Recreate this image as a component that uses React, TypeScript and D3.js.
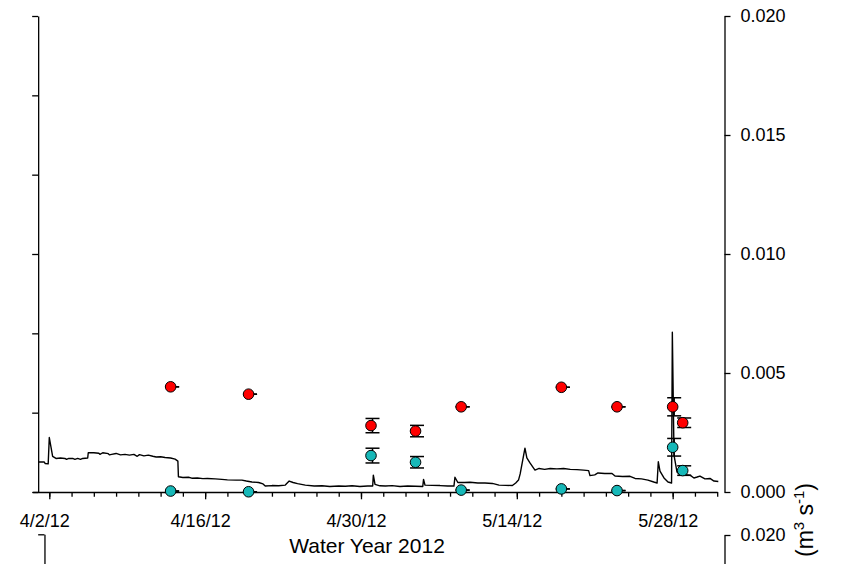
import React, { useEffect, useRef } from "react";
import * as d3 from "d3";

// Record start: 4/1/12 00:00. Times below are fractional days after it.
const RECORD_START = new Date(2012, 3, 1);

// Continuous discharge record (m3 s-1)
const flowDays = [
  0.0, 0.55, 0.62, 0.9, 1.0, 1.3, 1.6, 2.0, 2.4, 2.55, 2.75, 3.1, 3.3, 3.55, 3.8, 4.0, 4.45, 4.5,
  5.0, 5.45, 5.55, 5.8, 6.3, 6.4, 6.6, 7.0, 7.4, 7.8, 8.2, 8.6, 8.9, 9.1, 9.5, 9.9, 10.3, 10.6,
  11.0, 11.4, 11.9, 12.3, 12.55, 12.6, 13.0, 13.5, 13.8, 14.3, 14.8, 15.2, 15.9, 16.5, 17.0, 17.8,
  18.3, 18.7, 19.2, 19.8, 20.2, 20.4, 21.0, 21.6, 22.2, 22.55, 22.9, 23.3, 24.0, 24.8, 25.5, 26.2,
  27.0, 27.6, 28.2, 28.9, 29.6, 30.05, 30.11, 30.26, 30.7, 31.2, 31.8, 32.5, 33.2, 33.9, 34.55,
  34.62, 34.75, 35.4, 36.1, 36.8, 37.35, 37.44, 37.7, 38.3, 38.8, 39.5, 40.14, 40.8, 41.4, 42.0,
  42.6, 42.9, 43.15, 43.3, 43.73, 43.9, 44.18, 44.63, 45.0, 45.5, 46.0, 46.6, 47.2, 47.8, 48.4,
  49.0, 49.45, 49.57, 50.0, 50.29, 50.9, 51.55, 51.82, 52.5, 53.17, 53.62, 54.2, 54.78, 55.3,
  55.6, 55.71, 55.86, 56.22, 56.58, 56.9, 56.97, 57.12, 57.39, 57.66, 58.1, 58.56, 58.91, 59.2,
  59.45, 59.9, 60.35, 60.71, 61.1,
];
const flowValues = [
  0.00126, 0.00126, 0.0012, 0.00118, 0.00229, 0.0015, 0.00141, 0.00143, 0.00141, 0.00137, 0.00141,
  0.00141, 0.00137, 0.00141, 0.00137, 0.00141, 0.00143, 0.00165, 0.00165, 0.00163, 0.00158, 0.00165,
  0.00161, 0.00156, 0.00158, 0.00162, 0.00156, 0.00158, 0.00155, 0.00158, 0.0015, 0.00157, 0.00152,
  0.00155, 0.0015, 0.00147, 0.00148, 0.00145, 0.00143, 0.00138, 0.0013, 0.00064, 0.00061, 0.00062,
  0.00058, 0.00059, 0.00056, 0.00057, 0.00055, 0.00053, 0.00051, 0.0005, 0.0005, 0.00046, 0.00042,
  0.0004, 0.00034, 0.00025, 0.00027, 0.00026, 0.00029, 0.00046, 0.0004, 0.00035, 0.00029, 0.00025,
  0.00026, 0.00023, 0.00025, 0.00024, 0.00026, 0.00023, 0.00025, 0.00025, 0.00071, 0.00032, 0.00026,
  0.00025, 0.00027, 0.00023, 0.00025, 0.00024, 0.00023, 0.00053, 0.00029, 0.00028, 0.00027, 0.00025,
  0.00025, 0.00062, 0.0004, 0.0004, 0.00041, 0.00038, 0.00038, 0.00036, 0.00029, 0.00028, 0.00027,
  0.00038, 0.0005, 0.00076, 0.00184, 0.00143, 0.00122, 0.00092, 0.00099, 0.00095, 0.00099, 0.00097,
  0.00099, 0.00095, 0.00094, 0.00092, 0.0009, 0.00069, 0.00072, 0.0008, 0.00078, 0.00078, 0.00067,
  0.00065, 0.00066, 0.00057, 0.00055, 0.0005, 0.00042, 0.00038, 0.00127, 0.00088, 0.00059, 0.00042,
  0.00038, 0.00671, 0.00155, 0.00084, 0.00071, 0.00073, 0.00071, 0.00059, 0.00063, 0.00067, 0.00055,
  0.00057, 0.00046, 0.00044,
];

// Grab samples (days after 4/1/12) with mean and error
const sampleDays = [11.9, 18.9, 29.9, 33.9, 38.0, 47.0, 52.0, 57.0, 57.9];
const redValues = [0.00442, 0.00411, 0.00279, 0.00256, 0.00358, 0.0044, 0.00358, 0.00358, 0.00291];
const redErrors = [0, 0, 0.0003, 0.00024, 0, 0, 0, 0.00038, 0.0002];
const cyanValues = [0.00004, 0.00001, 0.00153, 0.00125, 0.00008, 0.00013, 0.00006, 0.00188, 0.0009];
const cyanErrors = [0, 0, 0.00031, 0.00024, 0, 0, 0, 0.00037, 0.0002];

const rightTicks = [0, 0.005, 0.01, 0.015, 0.02];
const leftTicks = [0, 1, 2, 3, 4, 5, 6];
const majorDateTicks = ["2012-04-02", "2012-04-16", "2012-04-30", "2012-05-14", "2012-05-28"];
const xTitle = "Water Year 2012";

const FONT = "Arial, 'Liberation Sans', Helvetica, sans-serif";
const RED = "#ff0000";
const CYAN = "#17b8b8";

const W = 841;
const H = 564;
const TOP = 16;
const BOTTOM = 492;
const RIGHT_AXIS_X = 724.5;
const LOWER_TOP = 535;

const dayToDate = (d: number) => new Date(RECORD_START.getTime() + d * 864e5);
const parseDay = (s: string) => {
  const [y, m, d] = s.split("-").map(Number);
  return new Date(y, m - 1, d);
};

export default function App() {
  const axesRef = useRef<SVGGElement>(null);

  const x = d3
    .scaleTime()
    .domain([dayToDate(-0.5), dayToDate(61)])
    .range([32.6, 717.2]);
  const y = d3.scaleLinear().domain([0, 0.02]).range([BOTTOM, TOP]);
  const yLeft = d3.scaleLinear().domain([0, 6]).range([BOTTOM, TOP]);
  const yLower = d3.scaleLinear().domain([0, 0.02]).range([LOWER_TOP + (BOTTOM - TOP), LOWER_TOP]);
  const yLowerLeft = d3.scaleLinear().domain([0, 6]).range([LOWER_TOP + (BOTTOM - TOP), LOWER_TOP - 0.7]);

  const flow = flowDays.map((d, i) => ({ t: dayToDate(d), v: flowValues[i] }));
  const line = d3
    .line<{ t: Date; v: number }>()
    .x((d) => x(d.t))
    .y((d) => y(d.v))
    .curve(d3.curveLinear);

  const samples = (values: number[], errors: number[]) =>
    sampleDays.map((d, i) => ({ t: dayToDate(d), v: values[i], e: errors[i] }));
  const series = [
    { fill: RED, pts: samples(redValues, redErrors) },
    { fill: CYAN, pts: samples(cyanValues, cyanErrors) },
  ];

  useEffect(() => {
    const g = d3.select(axesRef.current);
    g.selectAll("*").remove();

    const style = (sel: d3.Selection<SVGGElement, unknown, null, undefined>, size: number) => {
      sel.selectAll("path.domain").attr("stroke", "#000").attr("stroke-width", 1.3);
      sel.selectAll(".tick line").attr("stroke", "#000").attr("stroke-width", 1.3);
      sel
        .selectAll(".tick text")
        .attr("fill", "#000")
        .style("font-family", FONT)
        .style("font-size", `${size}px`);
      sel.attr("font-family", null).attr("font-size", null);
    };

    // Bottom axis: minor ticks every 2 days, labelled major ticks every 14 days
    const minorDates = d3.timeDay.range(parseDay("2012-04-02"), dayToDate(61.01), 1).filter((_, i) => i % 2 === 0);
    const minor = g
      .append("g")
      .attr("transform", `translate(0,${BOTTOM})`)
      .call(
        d3.axisBottom(x).tickValues(minorDates).tickSize(4.7).tickSizeOuter(0).tickFormat(() => "")
      );
    style(minor, 18);

    const major = g
      .append("g")
      .attr("transform", `translate(0,${BOTTOM})`)
      .call(
        d3
          .axisBottom(x)
          .tickValues(majorDateTicks.map(parseDay))
          .tickSize(7.3)
          .tickSizeOuter(0)
          .tickFormat((d) => d3.timeFormat("%-m/%-d/%y")(d as Date))
      );
    style(major, 18);
    major.select("path.domain").remove();
    major.selectAll(".tick text").attr("y", 35).attr("dy", 0).attr("x", -5);

    // Left axis (unlabelled)
    const left = g
      .append("g")
      .attr("transform", `translate(${x(dayToDate(0))},0)`)
      .call(d3.axisLeft(yLeft).tickValues(leftTicks).tickSize(6).tickSizeOuter(0).tickFormat(() => ""));
    style(left, 17);

    // Right axis: discharge
    const right = g
      .append("g")
      .attr("transform", `translate(${RIGHT_AXIS_X},0)`)
      .call(
        d3
          .axisRight(y)
          .tickValues(rightTicks)
          .tickSize(6)
          .tickSizeOuter(0)
          .tickPadding(10)
          .tickFormat(d3.format(".3f"))
      );
    style(right, 18);

    // Top of the next panel down
    const lowerLeft = g
      .append("g")
      .attr("transform", `translate(${x(dayToDate(0)) + 6.3},0)`)
      .call(d3.axisLeft(yLowerLeft).tickValues([6]).tickSize(6.3).tickSizeOuter(0).tickFormat(() => ""));
    style(lowerLeft, 17);

    const lowerRight = g
      .append("g")
      .attr("transform", `translate(${RIGHT_AXIS_X},0)`)
      .call(
        d3
          .axisRight(yLower)
          .tickValues([0.02])
          .tickSize(6)
          .tickSizeOuter(0)
          .tickPadding(10)
          .tickFormat(d3.format(".3f"))
      );
    style(lowerRight, 18);
  }, []);

  return (
    <svg
      width={W}
      height={H}
      viewBox={`0 0 ${W} ${H}`}
      style={{ position: "absolute", left: 0, top: 0, background: "#fff" }}
    >
      <rect width={W} height={H} fill="#fff" />
      <g ref={axesRef} />

      <path d={line(flow) ?? ""} fill="none" stroke="#000" strokeWidth={1.4} strokeLinejoin="round" />

      {series.map((s, si) => (
        <g key={si}>
          {s.pts.map((p, i) => {
            const cx = x(p.t) + 1.5;
            const hi = y(p.v + p.e);
            const lo = y(p.v - p.e);
            return (
              <g key={i} stroke="#000" strokeWidth={1.5}>
                <line x1={cx} x2={cx} y1={hi} y2={lo} />
                <line x1={cx - 7} x2={cx + 7} y1={hi} y2={hi} />
                <line x1={cx - 7} x2={cx + 7} y1={lo} y2={lo} />
              </g>
            );
          })}
          {s.pts.map((p, i) => (
            <circle
              key={`c${i}`}
              cx={x(p.t)}
              cy={y(p.v)}
              r={5.3}
              fill={s.fill}
              stroke="#000"
              strokeWidth={1}
            />
          ))}
        </g>
      ))}

      <text
        x={367}
        y={553}
        textAnchor="middle"
        style={{ fontFamily: FONT, fontSize: "21px" }}
        fill="#000"
      >
        {xTitle}
      </text>

      <text
        transform="translate(813,520) rotate(-90)"
        textAnchor="middle"
        style={{ fontFamily: FONT, fontSize: "23px" }}
        fill="#000"
      >
        (m
        <tspan dy={-9} style={{ fontSize: "15px" }}>
          3
        </tspan>
        <tspan dy={9}> s</tspan>
        <tspan dy={-9} style={{ fontSize: "15px" }}>
          -1
        </tspan>
        <tspan dy={9}>)</tspan>
      </text>
    </svg>
  );
}
